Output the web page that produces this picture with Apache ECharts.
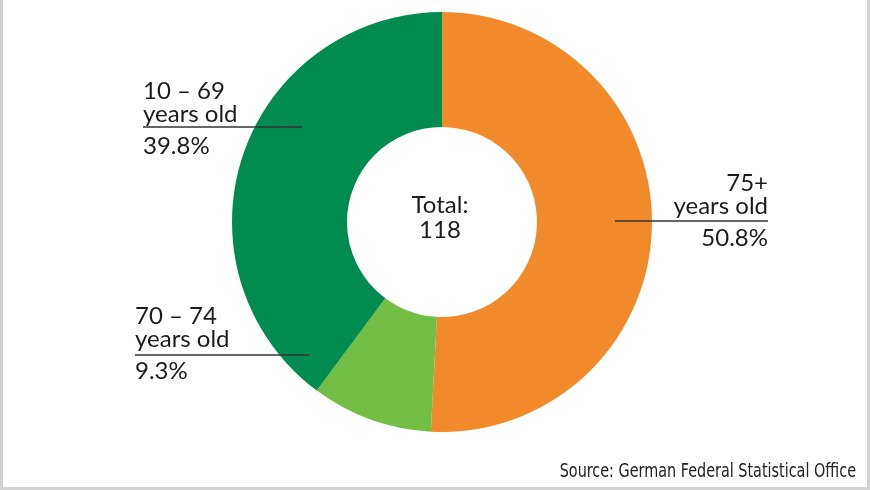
<!DOCTYPE html>
<html>
<head>
<meta charset="utf-8">
<script src="https://cdn.jsdelivr.net/npm/echarts@6/dist/echarts.min.js"></script>
<style>
  html, body { margin: 0; padding: 0; background: #fff; }
  #chart { width: 870px; height: 490px; }
</style>
</head>
<body>
<div id="chart"></div>
<script>
// Data
const ageGroups = ['75+', '70 – 74', '10 – 69'];
const counts = [60, 11, 47];
const colors = ['#F18A2B', '#73BF45', '#008B50'];
const total = counts.reduce((a, b) => a + b, 0); // 118
const sourceText = 'Source: German Federal Statistical Office';

// Label layout (per age group index)
const labelPlacement = [
  { x: 768, y: 172, align: 'right', line: [[615, 221], [690, 221], [768, 221]] },
  { x: 135, y: 305, align: 'left',  line: [[309, 355], [220, 355], [135, 355]] },
  { x: 143, y: 80,  align: 'left',  line: [[302, 127], [220, 127], [143, 127]] }
];

const FONT = 'Lato, "Open Sans", sans-serif';
const TEXT = '#1c1c1c';

const pieData = ageGroups.map((g, i) => ({
  name: g + '\nyears old',
  value: counts[i],
  itemStyle: { color: colors[i] }
}));

const chart = echarts.init(document.getElementById('chart'));
chart.setOption({
  backgroundColor: '#fff',
  animation: false,
  graphic: [
    { type: 'rect', shape: { x: 0, y: 0, width: 3, height: 490 }, style: { fill: '#d2d2d2' }, silent: true },
    { type: 'rect', shape: { x: 867, y: 0, width: 3, height: 490 }, style: { fill: '#d2d2d2' }, silent: true },
    { type: 'rect', shape: { x: 0, y: 487, width: 870, height: 3 }, style: { fill: '#d2d2d2' }, silent: true },
    {
      type: 'text', x: 440, y: 193, z: 10,
      style: {
        text: 'Total:\n' + total,
        textAlign: 'center', textVerticalAlign: 'top',
        fontFamily: FONT, fontSize: 24, lineHeight: 25, fill: TEXT
      }
    },
    {
      type: 'text', x: 856, y: 482, scaleY: 1.25, z: 10,
      style: {
        text: sourceText,
        textAlign: 'right', textVerticalAlign: 'bottom',
        fontFamily: '"Liberation Sans Narrow", "DejaVu Sans Condensed", sans-serif',
        fontSize: 16, fill: '#222'
      }
    }
  ],
  series: [{
    type: 'pie',
    z: 2,
    center: [442, 222],
    radius: [95, 210],
    startAngle: 90,
    clockwise: true,
    avoidLabelOverlap: false,
    itemStyle: { borderWidth: 0 },
    emphasis: { disabled: true },
    label: { show: false },
    labelLine: { show: false },
    data: pieData
  }, {
    // transparent overlay carrying labels + leader lines above the ring
    type: 'pie',
    z: 5,
    silent: true,
    center: [442, 222],
    radius: [95, 210],
    startAngle: 90,
    clockwise: true,
    avoidLabelOverlap: false,
    itemStyle: { color: 'rgba(0,0,0,0)', borderWidth: 0 },
    emphasis: { disabled: true },
    data: pieData.map(d => ({ name: d.name, value: d.value })),
    label: {
      show: true,
      position: 'outside',
      formatter: p => '{n|' + p.name + '}\n{p|' + (p.value / total * 100).toFixed(1) + '%}',
      rich: {
        n: { fontFamily: FONT, fontSize: 24, lineHeight: 23, color: TEXT },
        p: { fontFamily: FONT, fontSize: 24, lineHeight: 41, color: TEXT }
      }
    },
    labelLine: {
      show: true,
      lineStyle: { color: '#333', width: 1.5 }
    },
    labelLayout: function (params) {
      const L = labelPlacement[params.dataIndex];
      return {
        x: L.x, y: L.y, align: L.align, verticalAlign: 'top',
        labelLinePoints: L.line
      };
    }
  }]
});
</script>
</body>
</html>
